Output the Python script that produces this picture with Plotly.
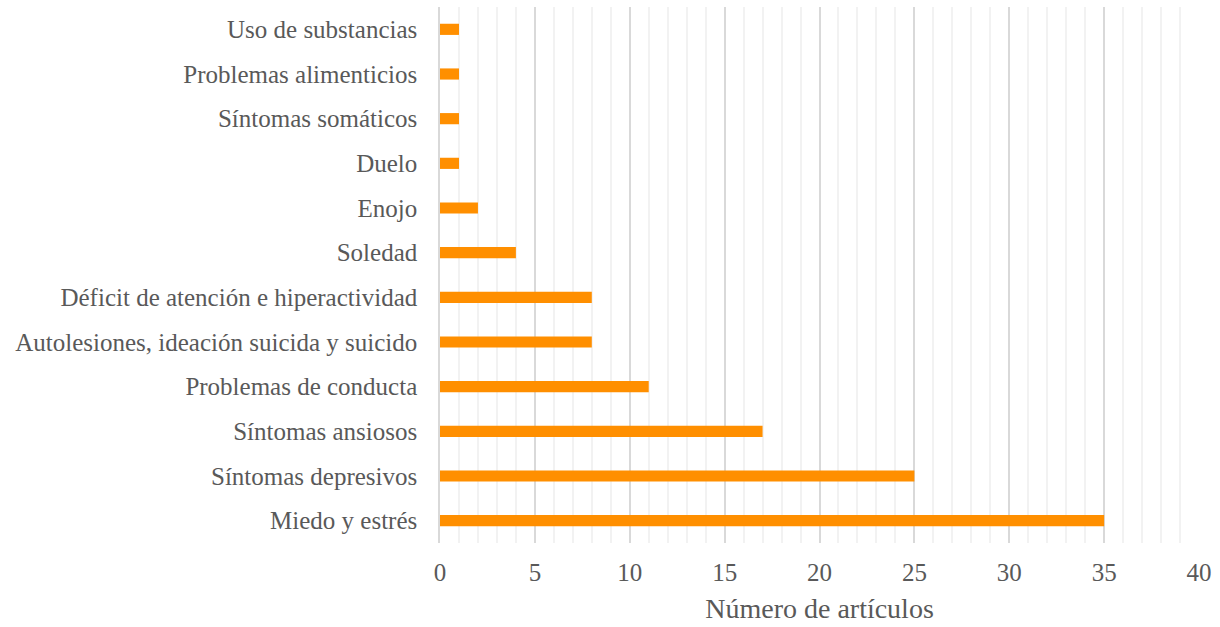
import plotly.graph_objects as go

categories = ["Miedo y estrés", "Síntomas depresivos", "Síntomas ansiosos", "Problemas de conducta",
              "Autolesiones, ideación suicida y suicido", "Déficit de atención e hiperactividad",
              "Soledad", "Enojo", "Duelo", "Síntomas somáticos", "Problemas alimenticios",
              "Uso de substancias"]
values = [35, 25, 17, 11, 8, 8, 4, 2, 1, 1, 1, 1]
x_ticks = [0, 5, 10, 15, 20, 25, 30, 35, 40]

fig = go.Figure(go.Bar(
    x=values, y=categories, orientation="h",
    marker=dict(color="#FF8F00", line=dict(width=0)),
))

font = "Liberation Serif, Times New Roman, serif"
fig.update_layout(
    width=1220, height=627,
    margin=dict(l=440, r=21, t=7, b=84),
    plot_bgcolor="white", paper_bgcolor="white",
    bargap=0.75,
    showlegend=False,
    font=dict(family=font, color="#595959", size=25),
    xaxis=dict(
        range=[0, 40], tickvals=x_ticks, ticks="", showline=False,
        showgrid=True, gridcolor="#D9D9D9", gridwidth=1.5,
        minor=dict(dtick=1, showgrid=True, gridcolor="#F2F2F2", gridwidth=1.5),
        zeroline=False,
        ticklabelstandoff=12,
        tickfont=dict(size=25, family=font, color="#595959"),
        title=dict(text="Número de artículos", font=dict(size=28, family=font, color="#595959"), standoff=13),
    ),
    yaxis=dict(
        showline=True, linecolor="#D9D9D9", linewidth=1.5, ticks="",
        showgrid=False,
        ticklabelstandoff=16,
        tickfont=dict(size=25, family=font, color="#595959"),
    ),
)

fig.write_html("out.html")
